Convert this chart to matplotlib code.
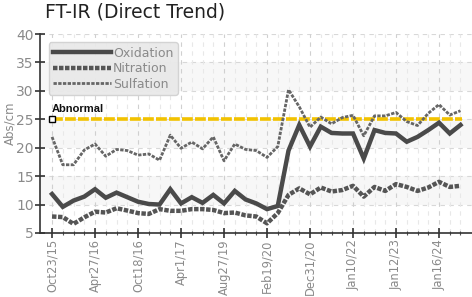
import numpy as np
import matplotlib
matplotlib.use('Agg')
from matplotlib import pyplot as plt

# data (39 samples, one label every 4th)
oxidation = [11.85, 9.6, 10.7, 11.4, 12.7, 11.2, 12.1, 11.3, 10.5, 10.1,
             10.0, 12.7, 10.2, 11.3, 10.3, 11.7, 10.2, 12.4, 10.9, 10.2,
             9.2, 9.75, 19.5, 24.0, 20.2, 23.7, 22.6, 22.5, 22.5, 18.1,
             23.1, 22.6, 22.5, 21.05, 21.9, 23.1, 24.4, 22.5, 24.0]
nitration = [7.9, 7.8, 6.6, 7.75, 8.75, 8.6, 9.35, 8.95, 8.5, 8.35,
             9.2, 8.9, 8.9, 9.2, 9.2, 9.05, 8.5, 8.6, 8.1, 7.9,
             6.7, 8.5, 11.7, 12.85, 11.8, 13.0, 12.3, 12.55, 13.3, 11.4,
             13.1, 12.4, 13.6, 13.1, 12.4, 13.0, 14.0, 13.1, 13.3]
sulfation = [21.9, 17.0, 17.0, 19.6, 20.65, 18.5, 19.7, 19.5, 18.7, 18.9,
             17.8, 22.2, 19.9, 21.0, 19.8, 21.9, 17.7, 20.65, 19.7, 19.5,
             18.3, 20.2, 30.2, 27.2, 23.6, 25.4, 24.2, 25.3, 25.7, 22.1,
             25.6, 25.6, 26.2, 24.6, 23.9, 26.05, 27.6, 25.75, 26.5]
tick_labels = ['Oct23/15', 'Apr27/16', 'Oct18/16', 'Apr1/17', 'Aug27/19',
               'Feb19/20', 'Dec31/20', 'Jan10/22', 'Jan12/23', 'Jan16/24']
abnormal = 25

gray_txt = '#8a8a8a'

fig = plt.figure(figsize=(4.72, 2.97), dpi=100)
ax = fig.add_axes([40 / 472, 1 - 233 / 297, 1 - 40 / 472, 199 / 297])

x = np.arange(len(oxidation))

# light background bands and dashed grid
for lo in (10, 20, 30):
    ax.axhspan(lo, lo + 5, color='#f7f7f7', zorder=0, lw=0)
for yv in range(10, 41, 5):
    ax.axhline(yv, color='#d8d8d8', lw=0.8, ls=(0, (4, 4)), zorder=1)
for xv in x:
    c = '#d0d0d0' if xv % 4 == 0 else '#e8e8e8'
    ax.axvline(xv, color=c, lw=0.8, ls=(0, (4, 4)), zorder=1)

ax.plot(x, oxidation, color='#4a4a4a', lw=3.2, solid_joinstyle='miter',
        label='Oxidation', zorder=4)
ax.plot(x, nitration, color='#555555', lw=3.2, ls=(0, (1.0, 0.35)),
        label='Nitration', zorder=4)
ax.plot(x, sulfation, color='#666666', lw=2.0, ls=(0, (1.2, 0.5)),
        label='Sulfation', zorder=4)

# abnormal limit
ax.plot([x[0], x[-1] + 0.1], [abnormal, abnormal], color='#f2c200', lw=2.6,
        ls=(0, (3, 0.6)), zorder=3)
ax.plot(x[0], abnormal, marker='s', ms=4.5, mfc='white', mec='black',
        mew=1.0, zorder=5, clip_on=False)
ax.text(x[0] - 0.05, abnormal + 0.9, 'Abnormal', fontsize=8, fontweight='bold',
        family='Liberation Sans', color='#111111', va='bottom', ha='left', zorder=5)

ax.set_xlim(-1.12, 39.07)
ax.set_ylim(5, 40)
ax.set_yticks(range(5, 41, 5))
ax.set_xticks(x[::4])
ax.set_xticks(x, minor=True)
ax.set_xticklabels(tick_labels, rotation=90, fontsize=8.3)

for s in ('top', 'right'):
    ax.spines[s].set_visible(False)
for s in ('left', 'bottom'):
    ax.spines[s].set_color('#333333')
    ax.spines[s].set_linewidth(1.2)
ax.tick_params(axis='both', which='major', direction='inout', length=7,
               width=1.2, color='#333333', labelcolor=gray_txt)
ax.tick_params(axis='y', labelsize=10, pad=1)
ax.tick_params(axis='x', which='minor', direction='inout', length=3,
               width=0.8, color='#555555')
ax.tick_params(axis='x', pad=1)

ax.set_ylabel('Abs/cm', color=gray_txt, fontsize=8.5, labelpad=0)
ax.yaxis.set_label_coords(-0.055, 0.55)

leg = ax.legend(loc='upper left', bbox_to_anchor=(0.006, 0.99), handlelength=4.6,
                handletextpad=0.2, labelspacing=0.2, borderpad=0.35,
                fontsize=9, fancybox=True,
                facecolor='#e9e9e9', edgecolor='#d2d2d2', framealpha=0.95)
for t in leg.get_texts():
    t.set_color(gray_txt)

fig.text(45 / 472, 1 - 3 / 297, 'FT-IR (Direct Trend)', fontsize=13.5,
         color='#222222', ha='left', va='top')

fig.savefig('out.png', dpi=100)
